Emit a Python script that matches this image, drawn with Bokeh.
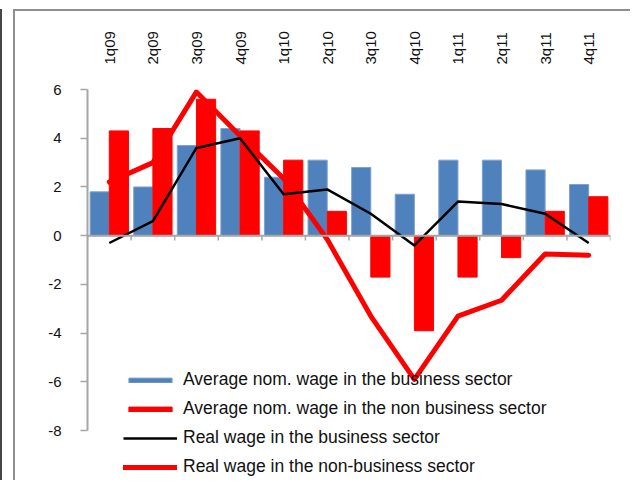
from bokeh.plotting import figure
from bokeh.models import (FactorRange, Range1d, FixedTicker, Span, Legend,
                          LegendItem, ColumnDataSource)
from bokeh.transform import dodge
from bokeh.embed import file_html
from bokeh.resources import INLINE

quarters = ["1q09", "2q09", "3q09", "4q09", "1q10", "2q10",
            "3q10", "4q10", "1q11", "2q11", "3q11", "4q11"]
nom_business = [1.8, 2.0, 3.7, 4.4, 2.4, 3.1, 2.8, 1.7, 3.1, 3.1, 2.7, 2.1]
nom_nonbusiness = [4.3, 4.4, 5.6, 4.3, 3.1, 1.0, -1.7, -3.9, -1.7, -0.9, 1.0, 1.6]
real_business = [-0.3, 0.6, 3.6, 4.0, 1.7, 1.9, 0.9, -0.4, 1.4, 1.3, 0.9, -0.3]
real_nonbusiness = [2.2, 3.0, 5.9, 4.1, 2.35, -0.15, -3.3, -5.9, -3.3, -2.65, -0.75, -0.8]
y_ticks = [-8, -6, -4, -2, 0, 2, 4, 6]
labels = ["Average nom. wage in the business sector",
          "Average nom. wage in the non business sector",
          "Real wage in the business sector",
          "Real wage in the non-business sector"]

FONT = "Liberation Sans"
GRAY = "#a6a6a6"

src = ColumnDataSource(dict(q=quarters, nb=nom_business, nn=nom_nonbusiness,
                            rb=real_business, rn=real_nonbusiness))

p = figure(width=617, height=471, output_backend="svg", toolbar_location=None,
           x_range=FactorRange(factors=quarters, range_padding=0),
           y_range=Range1d(-10.13, 6), x_axis_location="above",
           min_border_left=72, min_border_right=22, min_border_top=78,
           min_border_bottom=0, margin=(9, 0, 0, 13),
           styles={"border-left": "2px solid #8f8f8f",
                   "border-top": "2px solid #8f8f8f",
                   "box-shadow": "-11px 0 0 0 #ffffff, -13px 0 0 0 #454545"})
p.outline_line_color = None
p.grid.visible = False
p.background_fill_color = "white"

# bars
r_nb = p.vbar(x=dodge("q", -0.22, range=p.x_range), top="nb", bottom=0, width=0.44,
              source=src, fill_color="#4f81bd", line_color="#7fa2cf", line_width=1)
r_nn = p.vbar(x=dodge("q", 0.22, range=p.x_range), top="nn", bottom=0, width=0.44,
              source=src, fill_color="#ff0000", line_color="#ff0000", line_width=1)

# zero axis line with category boundary ticks
p.add_layout(Span(location=0, dimension="width", line_color=GRAY, line_width=2))
bounds_x = list(range(len(quarters) + 1))
p.segment(x0=bounds_x, x1=bounds_x, y0=[0] * len(bounds_x), y1=[-0.2] * len(bounds_x),
          line_color=GRAY, line_width=1.5)

# lines
r_rn = p.line(x="q", y="rn", source=src, line_color="#ff0000", line_width=5,
              line_join="round", line_cap="round")
r_rb = p.line(x="q", y="rb", source=src, line_color="#000000", line_width=2.5,
              line_join="round")

# y axis
ya = p.yaxis[0]
ya.ticker = FixedTicker(ticks=y_ticks)
ya.major_label_overrides = {t: str(t) for t in y_ticks}
ya.bounds = (-8, 6)
ya.axis_line_color = GRAY
ya.axis_line_width = 2
ya.major_tick_line_color = GRAY
ya.major_tick_line_width = 1.5
ya.major_tick_out = 7
ya.major_tick_in = 0
ya.minor_tick_line_color = None
ya.major_label_standoff = 19
ya.major_label_text_font = FONT
ya.major_label_text_font_size = "15px"
ya.major_label_text_color = "#111111"

# x axis (labels on top)
xa = p.xaxis[0]
xa.axis_line_color = None
xa.major_tick_line_color = None
xa.minor_tick_line_color = None
xa.major_label_orientation = "vertical"
xa.major_label_standoff = 19
xa.major_label_text_font = FONT
xa.major_label_text_font_size = "15px"
xa.major_label_text_color = "#111111"

legend = Legend(items=[LegendItem(label=labels[0], renderers=[r_nb]),
                       LegendItem(label=labels[1], renderers=[r_nn]),
                       LegendItem(label=labels[2], renderers=[r_rb]),
                       LegendItem(label=labels[3], renderers=[r_rn])],
                location=(36, 5), padding=0, margin=0, spacing=8,
                glyph_width=54, glyph_height=6, label_height=20, label_standoff=6,
                label_text_font=FONT, label_text_font_size="17.5px",
                label_text_color="#111111", border_line_color=None,
                background_fill_alpha=0)
p.add_layout(legend)

open("out.html", "w").write(file_html(p, INLINE))
